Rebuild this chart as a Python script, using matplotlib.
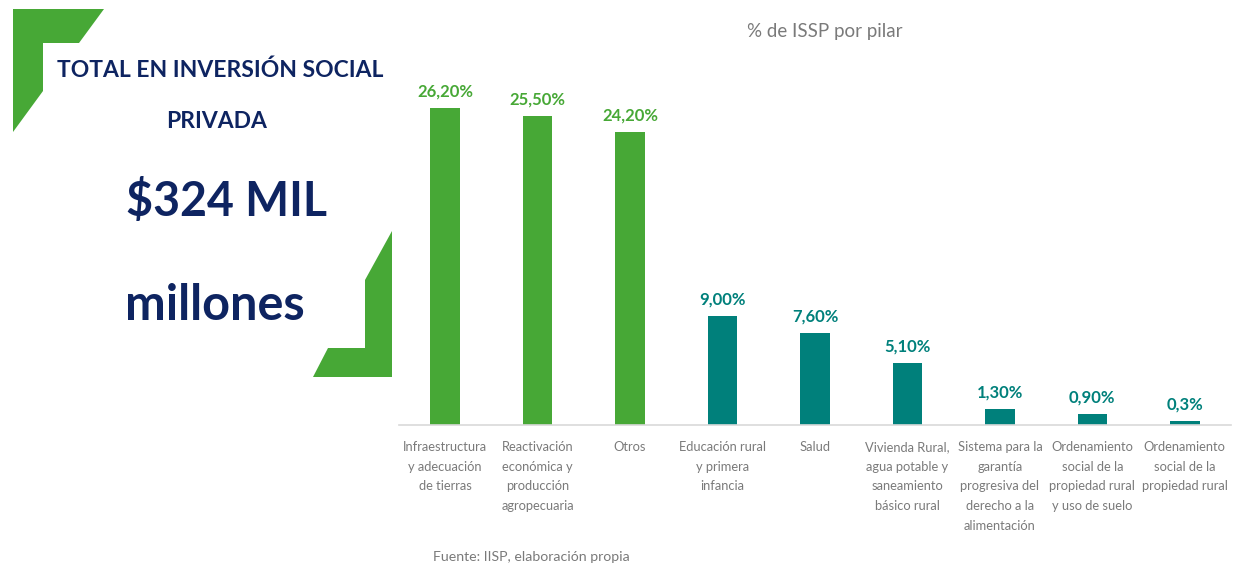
import matplotlib
matplotlib.use("Agg")
import matplotlib.pyplot as plt
from matplotlib.patches import Polygon

plt.rcParams['font.family'] = ['Lato', 'DejaVu Sans']

# ---- data ----
categories = [
    "Infraestructura\ny adecuación\nde tierras",
    "Reactivación\neconómica y\nproducción\nagropecuaria",
    "Otros",
    "Educación rural\ny primera\ninfancia",
    "Salud",
    "Vivienda Rural,\nagua potable y\nsaneamiento\nbásico rural",
    "Sistema para la\ngarantía\nprogresiva del\nderecho a la\nalimentación",
    "Ordenamiento\nsocial de la\npropiedad rural\ny uso de suelo",
    "Ordenamiento\nsocial de la\npropiedad rural",
]
values = [26.2, 25.5, 24.2, 9.0, 7.6, 5.1, 1.3, 0.9, 0.3]
value_labels = ["26,20%", "25,50%", "24,20%", "9,00%", "7,60%", "5,10%", "1,30%", "0,90%", "0,3%"]
groups = ["g", "g", "g", "t", "t", "t", "t", "t", "t"]

title = "% de ISSP por pilar"
source = "Fuente: IISP, elaboración propia"
headline = ["TOTAL EN INVERSIÓN SOCIAL", "PRIVADA"]
big_lines = ["$324 MIL", "millones"]

GREEN = "#47A836"
TEAL = "#00807B"
NAVY = "#0E2461"
GRAY = "#7A7A7A"
colors = {"g": GREEN, "t": TEAL}

W, H = 1240, 566
fig = plt.figure(figsize=(W / 100, H / 100), dpi=100)
fig.patch.set_facecolor("white")


def fx(x):
    return x / W


def fy(y):
    return 1 - y / H


# axes placed in pixel terms
ax_left, ax_right = 399, 1231
ax_base, ax_top = 425, 62
ax = fig.add_axes([fx(ax_left), fy(ax_base), (ax_right - ax_left) / W, (ax_base - ax_top) / H])
px_per_unit = 12.1
ax.set_ylim(0, (ax_base - ax_top) / px_per_unit)
ax.set_xlim(-0.5, len(values) - 0.5)

xs = list(range(len(values)))
bars = ax.bar(xs, values, width=0.32, color=[colors[g] for g in groups], zorder=2)

for x, v, lab, g in zip(xs, values, value_labels, groups):
    ax.annotate(lab, (x, v), xytext=(0, 8.5), textcoords="offset points",
                ha="center", va="baseline", fontsize=12, fontweight="bold",
                color=colors[g])

ax.set_xticks(xs)
ax.set_xticklabels(categories, fontsize=9.3, color=GRAY, linespacing=1.77)
ax.tick_params(axis="x", length=0, pad=11.5)
ax.set_yticks([])
for s in ["left", "right", "top"]:
    ax.spines[s].set_visible(False)
ax.spines["bottom"].set_color("#D9D9D9")
ax.spines["bottom"].set_linewidth(1.2)

# chart title
fig.text(fx(825), fy(32), title, ha="center", va="center", fontsize=13.5, color=GRAY)

# source
fig.text(fx(433), fy(557), source, ha="left", va="center", fontsize=10.2, color=GRAY)

# left panel decorations
tl = [(13, 9), (104, 9), (79, 43), (43, 43), (43, 91), (13, 132)]
br = [(392, 231), (392, 377), (313, 377), (328, 348), (365, 348), (365, 280)]
for pts in (tl, br):
    fig.patches.append(Polygon([(fx(x), fy(y)) for x, y in pts], closed=True,
                               transform=fig.transFigure, facecolor=GREEN,
                               edgecolor="none", zorder=0))

fig.text(fx(220), fy(70), headline[0], ha="center", va="center", fontsize=16.5,
         fontweight="bold", color=NAVY)
fig.text(fx(217), fy(122), headline[1], ha="center", va="center", fontsize=16.5,
         fontweight="bold", color=NAVY)
fig.text(fx(227), fy(201), big_lines[0], ha="center", va="center", fontsize=33.5,
         fontweight="bold", color=NAVY)
fig.text(fx(215), fy(305), big_lines[1], ha="center", va="center", fontsize=35,
         fontweight="bold", color=NAVY)

fig.savefig("out.png", dpi=100, facecolor="white")
